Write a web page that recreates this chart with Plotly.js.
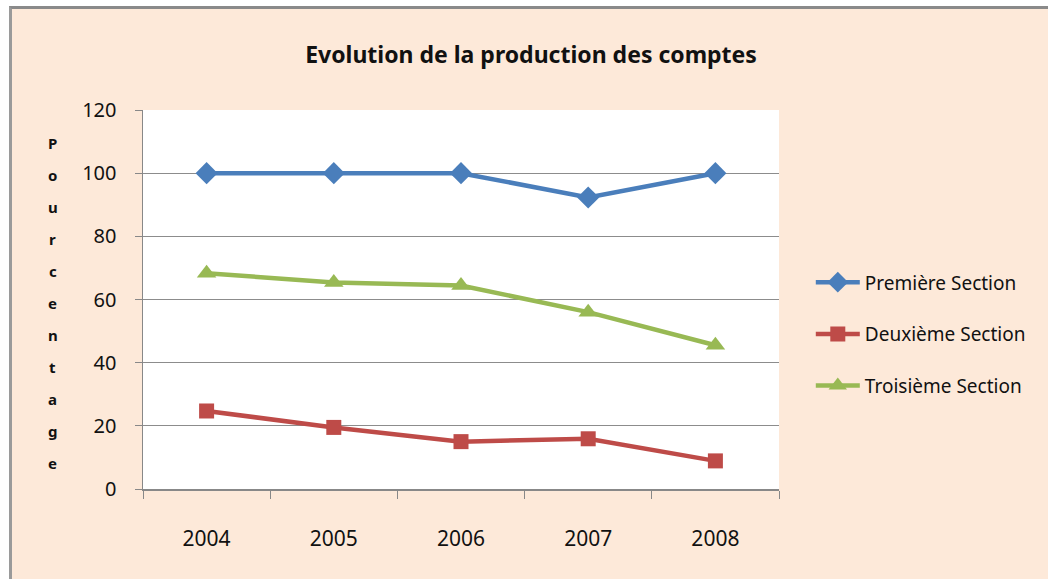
<!DOCTYPE html>
<html>
<head>
<meta charset="utf-8">
<script src="https://cdn.plot.ly/plotly-3.0.1.min.js"></script>
<style>
  html, body { margin: 0; padding: 0; background: #ffffff; }
  #frame { position: absolute; left: 9px; top: 6px; width: 1039px; height: 573px;
           border-top: 3px solid #8a8a8a; border-left: 3px solid #9a9a9a; box-sizing: border-box; background: #fde9d9; }
  #chart { width: 1036px; height: 570px; }
</style>
</head>
<body>
<div id="frame"><div id="chart"></div></div>
<script>
const years = ['2004', '2005', '2006', '2007', '2008'];
const premiere = [100, 100, 100, 92.3, 100];
const deuxieme = [24.7, 19.5, 15.0, 15.9, 8.9];
const troisieme = [68.3, 65.4, 64.4, 56.0, 45.5];
const seriesNames = ['Première Section', 'Deuxième Section', 'Troisième Section'];
const yTitle = 'Pourcentage';
const chartTitle = 'Evolution de la production des comptes';

const FONT = '"Noto Sans", "DejaVu Sans", sans-serif';

const traces = [
  { x: years, y: premiere, name: seriesNames[0], type: 'scatter', mode: 'lines+markers',
    line: { color: '#4a7ebb', width: 4.5 }, marker: { symbol: 'diamond', size: 17, color: '#4a7ebb' }, legendgroup: 'a' },
  { x: years, y: deuxieme, name: seriesNames[1], type: 'scatter', mode: 'lines+markers',
    line: { color: '#be4b48', width: 4.5 }, marker: { symbol: 'square', size: 15, color: '#be4b48' }, legendgroup: 'b' },
  { x: years, y: troisieme, name: seriesNames[2], type: 'scatter', mode: 'lines+markers',
    line: { color: '#98b954', width: 4.5 }, marker: { symbol: 'triangle-up', size: 17, color: '#98b954' }, legendgroup: 'c' }
];

const annotations = [];
const letters = yTitle.split('');
const plotTop = 101, plotH = 379;
letters.forEach((ch, i) => {
  const yPix = 134 + i * 32;
  annotations.push({
    text: ch, xref: 'paper', yref: 'paper', showarrow: false,
    x: -0.142, y: (plotTop + plotH - yPix) / plotH, xanchor: 'center', yanchor: 'middle',
    font: { family: FONT, size: 15, weight: 'bold', color: '#111' }
  });
});

const layout = {
  width: 1036, height: 570,
  paper_bgcolor: '#fde9d9', plot_bgcolor: '#ffffff',
  margin: { l: 131, r: 269, t: 101, b: 90 },
  title: { text: chartTitle, x: 0.501, xanchor: 'center', y: 0.92, yanchor: 'middle',
           font: { family: FONT, size: 23, weight: 'bold', color: '#111' } },
  xaxis: { type: 'category', range: [-0.5, 4.5], tickson: 'boundaries', ticks: 'outside', ticklen: 8,
           tickcolor: '#888', showgrid: false, showline: true, linecolor: '#888', linewidth: 1.5,
           ticklabelstandoff: 30, tickfont: { family: FONT, size: 21, color: '#111' }, fixedrange: true },
  yaxis: { range: [0, 120], dtick: 20, ticks: 'outside', ticklen: 7, tickcolor: '#888',
           showgrid: true, gridcolor: '#8c8c8c', gridwidth: 1, zeroline: false,
           showline: true, linecolor: '#888', linewidth: 1.5, ticklabelstandoff: 14,
           tickfont: { family: FONT, size: 20, color: '#111' }, fixedrange: true },
  legend: { x: 1.05, xanchor: 'left', y: 0.408, yanchor: 'middle', bgcolor: 'rgba(0,0,0,0)',
            traceorder: 'grouped', tracegroupgap: 24, itemwidth: 44,
            font: { family: FONT, size: 19, color: '#111' } },
  annotations: annotations,
  showlegend: true
};

Plotly.newPlot('chart', traces, layout, { displayModeBar: false, staticPlot: true });
</script>
</body>
</html>
